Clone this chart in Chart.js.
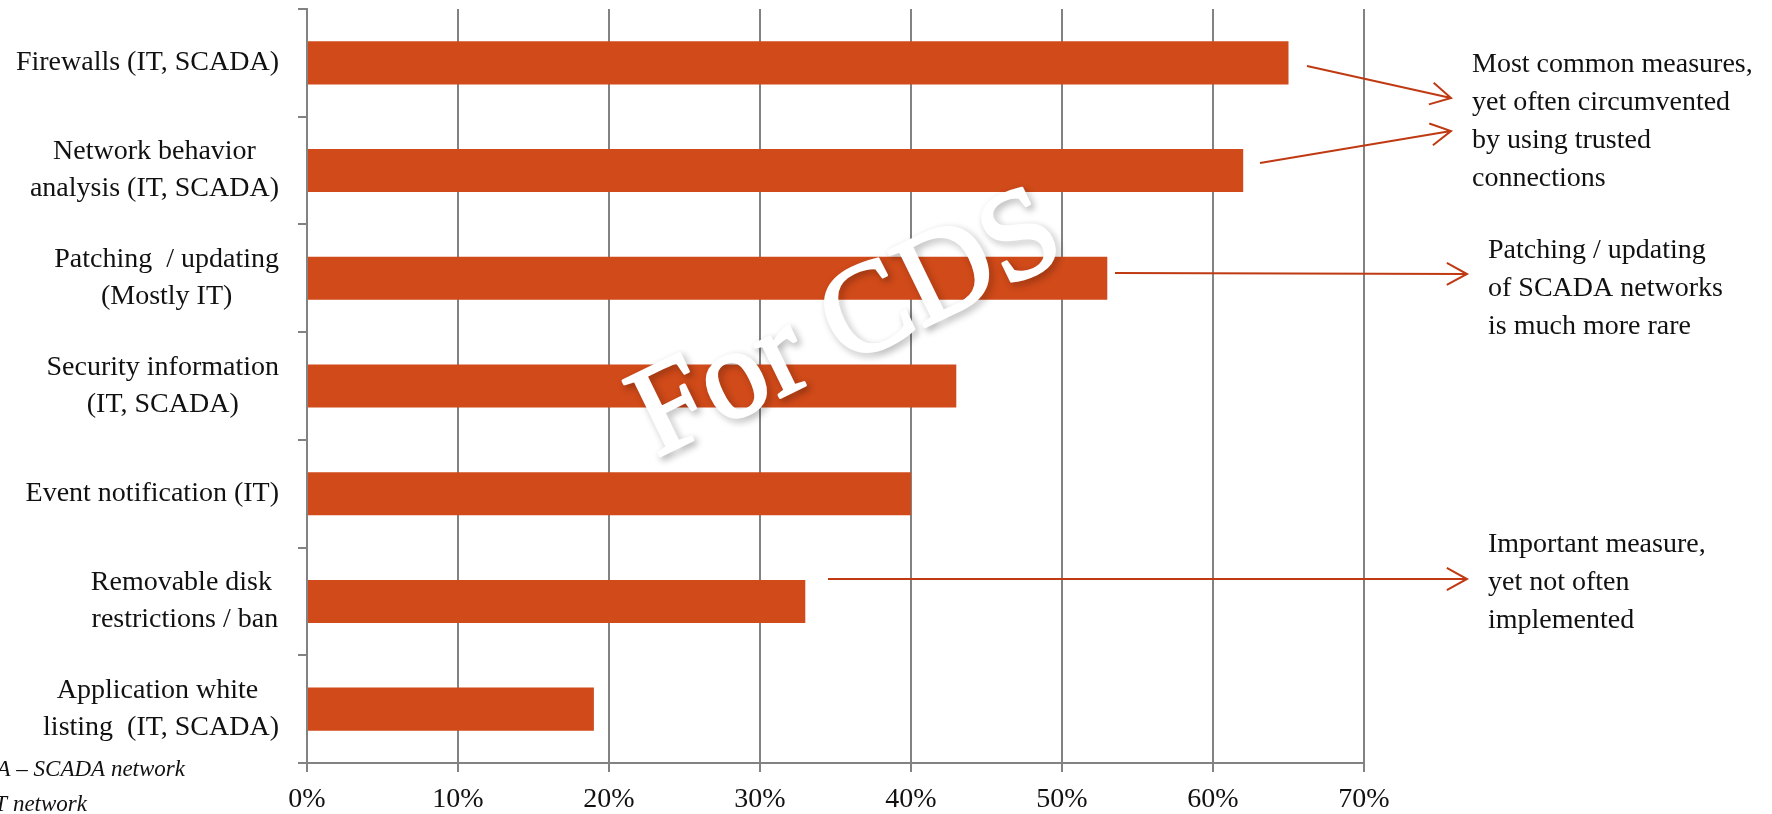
<!DOCTYPE html>
<html>
<head>
<meta charset="utf-8">
<script src="https://cdn.jsdelivr.net/npm/chart.js@4.4.1/dist/chart.umd.min.js"></script>
<style>
  body { margin: 0; background: #fff; }
  canvas { display: block; }
</style>
</head>
<body>
<canvas id="myChart" width="1772" height="814"></canvas>
<script>
// categories (each one is a list of lines, like in the slide)
let categorias = [
  ['Firewalls (IT, SCADA)'],
  ['Network behavior', 'analysis (IT, SCADA)'],
  ['Patching  / updating', '(Mostly IT)'],
  ['Security information', '(IT, SCADA)'],
  ['Event notification (IT)'],
  ['Removable disk ', 'restrictions / ban'],
  ['Application white ', 'listing  (IT, SCADA)']
];
let porcentajes = [65, 62, 53, 43, 40, 33, 19];
let ticksX = [0, 10, 20, 30, 40, 50, 60, 70];

let notaFirewalls = ['Most common measures,', 'yet often circumvented', 'by using trusted', 'connections'];
let notaPatching = ['Patching / updating', 'of SCADA networks', 'is much more rare'];
let notaDisk = ['Important measure,', 'yet not often', 'implemented'];
let leyenda = ['SCADA \u2013 SCADA network', 'IT \u2013 IT network'];

const fuente = "'Liberation Serif', 'DejaVu Serif', serif";
const naranja = '#D14A19';
const flecha = '#BF3A12';
const gris = '#828282';

function dibujarFlecha(ctx, x1, y1, x2, y2){
  let ang = Math.atan2(y2 - y1, x2 - x1);
  let largo = 23, abre = 0.5;
  ctx.beginPath();
  ctx.moveTo(x1, y1);
  ctx.lineTo(x2, y2);
  ctx.moveTo(x2 - largo * Math.cos(ang - abre), y2 - largo * Math.sin(ang - abre));
  ctx.lineTo(x2, y2);
  ctx.lineTo(x2 - largo * Math.cos(ang + abre), y2 - largo * Math.sin(ang + abre));
  ctx.stroke();
}

function dibujarNota(ctx, lineas, x, y){
  lineas.forEach(function(l, i){ ctx.fillText(l, x, y + i * 38); });
}

const extras = {
  id: 'extras',
  afterDraw(chart){
    let ctx = chart.ctx;
    let ys = chart.scales.y;
    ctx.save();
    // category labels: block right aligned, lines centered inside
    ctx.font = '28px ' + fuente;
    ctx.fillStyle = '#111';
    ctx.textBaseline = 'middle';
    ctx.textAlign = 'center';
    categorias.forEach(function(lineas, i){
      let yc = ys.getPixelForValue(i);
      let ancho = Math.max.apply(null, lineas.map(l => ctx.measureText(l).width));
      let xc = 279 - ancho / 2;
      lineas.forEach(function(l, j){
        ctx.fillText(l, xc, yc + (j - (lineas.length - 1) / 2) * 37);
      });
    });

    // arrows
    ctx.strokeStyle = flecha;
    ctx.lineWidth = 2;
    dibujarFlecha(ctx, 1307, 66, 1451, 98);
    dibujarFlecha(ctx, 1260, 163, 1451, 131);
    dibujarFlecha(ctx, 1115, 273, 1467, 274);
    dibujarFlecha(ctx, 828, 579, 1467, 579);

    // notes
    ctx.textAlign = 'left';
    ctx.textBaseline = 'alphabetic';
    ctx.fillStyle = '#111';
    dibujarNota(ctx, notaFirewalls, 1472, 72);
    dibujarNota(ctx, notaPatching, 1488, 258);
    dibujarNota(ctx, notaDisk, 1488, 552);

    // footnote (cut at the left edge)
    ctx.font = 'italic 23px ' + fuente;
    ctx.textAlign = 'right';
    ctx.fillText(leyenda[0], 185, 776);
    ctx.fillText(leyenda[1], 87, 811);

    // watermark
    ctx.translate(848, 327);
    ctx.rotate(-26 * Math.PI / 180);
    ctx.font = '128px ' + fuente;
    ctx.textAlign = 'center';
    ctx.textBaseline = 'middle';
    ctx.shadowColor = 'rgba(0,0,0,0.4)';
    ctx.shadowBlur = 7;
    ctx.shadowOffsetX = 3;
    ctx.shadowOffsetY = 3;
    ctx.fillStyle = '#fff';
    ctx.strokeStyle = '#fff';
    ctx.lineWidth = 3;
    ctx.lineJoin = 'round';
    ctx.strokeText('For CDS', 0, 0);
    ctx.shadowColor = 'rgba(0,0,0,0)';
    ctx.fillText('For CDS', 0, 0);
    ctx.restore();
  }
};

let ctx = document.getElementById('myChart').getContext('2d');
let chart = new Chart(ctx, {
  type: 'bar',
  data: {
    labels: categorias,
    datasets: [{
      data: porcentajes,
      backgroundColor: naranja,
      borderWidth: 0,
      barPercentage: 0.4,
      categoryPercentage: 1
    }]
  },
  options: {
    indexAxis: 'y',
    responsive: false,
    animation: false,
    layout: { padding: { left: 0, right: 408, top: 9, bottom: 0 } },
    plugins: { legend: { display: false }, tooltip: { enabled: false } },
    scales: {
      x: {
        min: 0,
        max: 70,
        afterBuildTicks: function(s){ s.ticks = ticksX.map(v => ({ value: v })); },
        afterFit: function(s){ s.height = 51; },
        grid: { color: gris, lineWidth: 2, tickLength: 9 },
        border: { color: gris, width: 2 },
        ticks: {
          color: '#111',
          padding: 11,
          font: { family: fuente, size: 28 },
          callback: v => v + '%'
        }
      },
      y: {
        afterFit: function(s){ s.width = 307; },
        grid: { drawOnChartArea: false, color: gris, lineWidth: 2, tickLength: 9, offset: true },
        border: { color: gris, width: 2 },
        ticks: { display: false }
      }
    }
  },
  plugins: [extras]
});
</script>
</body>
</html>
